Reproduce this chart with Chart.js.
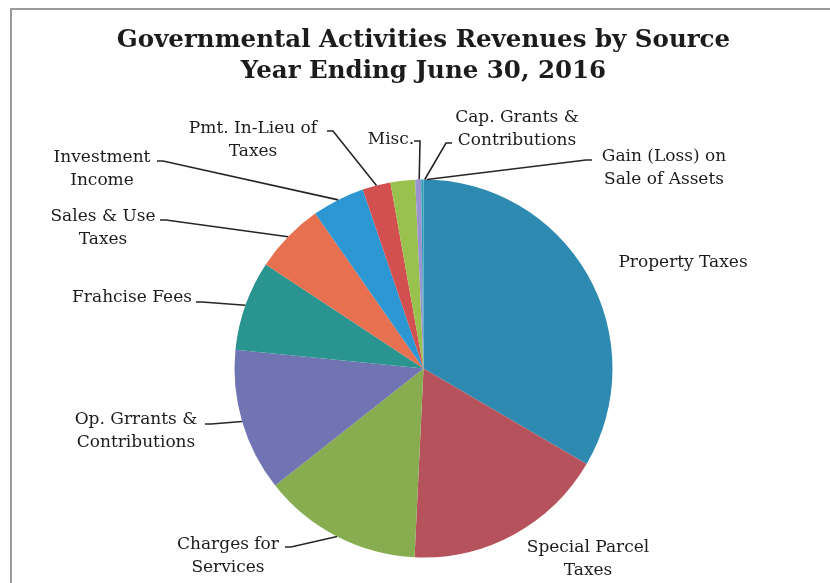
<!DOCTYPE html>
<html>
<head>
<meta charset="utf-8">
<script src="https://cdn.jsdelivr.net/npm/chart.js@4/dist/chart.umd.min.js"></script>
<style>
  html,body{margin:0;padding:0;background:#fff;}
  #graph{width:830px;height:583px;}
</style>
</head>
<body>
<div id="graph"><canvas id="graph-canvas" width="830" height="583"></canvas></div>
<script>
//----- chart data -----//
const titleLines = ['Governmental Activities Revenues by Source', 'Year Ending June 30, 2016'];
const categories = ['Property Taxes','Special Parcel Taxes','Charges for Services','Op. Grrants & Contributions',
                    'Frahcise Fees','Sales & Use Taxes','Investment Income','Pmt. In-Lieu of Taxes',
                    'Misc.','Cap. Grants & Contributions','Gain (Loss) on Sale of Assets'];
//share of revenue (%)
const revenueShare = [33.4, 17.3, 13.6, 12.2, 7.7, 6.0, 4.5, 2.4, 2.1, 0.5, 0.2];
//how each label is broken on the picture
const labelText = [['Property Taxes'],['Special Parcel','Taxes'],['Charges for','Services'],['Op. Grrants &','Contributions'],
                   ['Frahcise Fees'],['Sales & Use','Taxes'],['Investment','Income'],['Pmt. In-Lieu of','Taxes'],
                   ['Misc.'],['Cap. Grants &','Contributions'],['Gain (Loss) on','Sale of Assets']];

//----- style -----//
const sliceColors = ['#2f8ab2','#b6525b','#88ad50','#7174b3','#2a9490','#e6704f',
                     '#2c97d3','#d2504f','#98c24d','#9b93cf','#2f9fb8'];
//label position (center of text, first line) and where its leader line starts
const labelLayout = [
  {x:683, y:263, lead:null},
  {x:588, y:548, lead:null},
  {x:228, y:545, lead:[285,547]},
  {x:136, y:420, lead:[205,424]},
  {x:132, y:298, lead:[196,302]},
  {x:103, y:217, lead:[160,220]},
  {x:102, y:158, lead:[157,161]},
  {x:253, y:129, lead:[327,131]},
  {x:391, y:140, lead:[414,141], nudge:5},
  {x:517, y:118, lead:[452,143], nudge:2},
  {x:664, y:157, lead:[592,160], nudge:1.4}
];
const labelFont = '17px "DejaVu Serif"';
const lineGap   = 23;

//----- frame + labels plugin -----//
const frame = {
  id:'frame',
  beforeDraw(chart){
    let ctx = chart.ctx;
    ctx.save();
    ctx.fillStyle='#fff';
    ctx.fillRect(0,0,chart.width,chart.height);
    ctx.strokeStyle='#9a9a9a';
    ctx.lineWidth=2;
    ctx.beginPath();
    ctx.moveTo(11,chart.height);
    ctx.lineTo(11,9);
    ctx.lineTo(chart.width,9);
    ctx.stroke();
    ctx.restore();
  }
};

const sliceLabels = {
  id:'sliceLabels',
  afterDraw(chart){
    let ctx  = chart.ctx;
    let meta = chart.getDatasetMeta(0);
    ctx.save();
    meta.data.forEach(function(arc,i){
      let p   = arc.getProps(['x','y','startAngle','endAngle','outerRadius'],true);
      let lay = labelLayout[i];
      //-- leader line to the middle of the slice edge --//
      if(lay.lead){
        let mid = (p.startAngle+p.endAngle)/2 + (lay.nudge||0)*Math.PI/180;
        let ex  = p.x + Math.cos(mid)*p.outerRadius;
        let ey  = p.y + Math.sin(mid)*p.outerRadius;
        let dir = ex>lay.lead[0] ? 1 : -1;
        ctx.strokeStyle='#262626';
        ctx.lineWidth=1.6;
        ctx.beginPath();
        ctx.moveTo(lay.lead[0],lay.lead[1]);
        ctx.lineTo(lay.lead[0]+dir*6,lay.lead[1]);
        ctx.lineTo(ex,ey);
        ctx.stroke();
      }
      //-- text --//
      ctx.fillStyle='#1c1c1c';
      ctx.font=labelFont;
      ctx.textAlign='center';
      ctx.textBaseline='middle';
      labelText[i].forEach(function(t,j){
        ctx.fillText(t,lay.x,lay.y+j*lineGap);
      });
    });
    ctx.restore();
  }
};

//----- create chart -----//
let canvas = document.getElementById('graph-canvas');
let revenueChart = new Chart(canvas, {
  type:'pie',
  data:{
    labels:categories,
    datasets:[{
      data:revenueShare,
      backgroundColor:sliceColors,
      borderWidth:0
    }]
  },
  options:{
    responsive:false,
    devicePixelRatio:1,
    animation:false,
    layout:{padding:{left:17,right:0,top:0,bottom:25.5}},
    plugins:{
      legend:{display:false},
      tooltip:{enabled:false},
      title:{
        display:true,
        text:titleLines,
        color:'#1c1c1c',
        font:{family:'DejaVu Serif',weight:'bold',size:24.5,lineHeight:1.28},
        padding:{top:25,bottom:91.8}
      }
    }
  },
  plugins:[frame,sliceLabels]
});
</script>
</body>
</html>
